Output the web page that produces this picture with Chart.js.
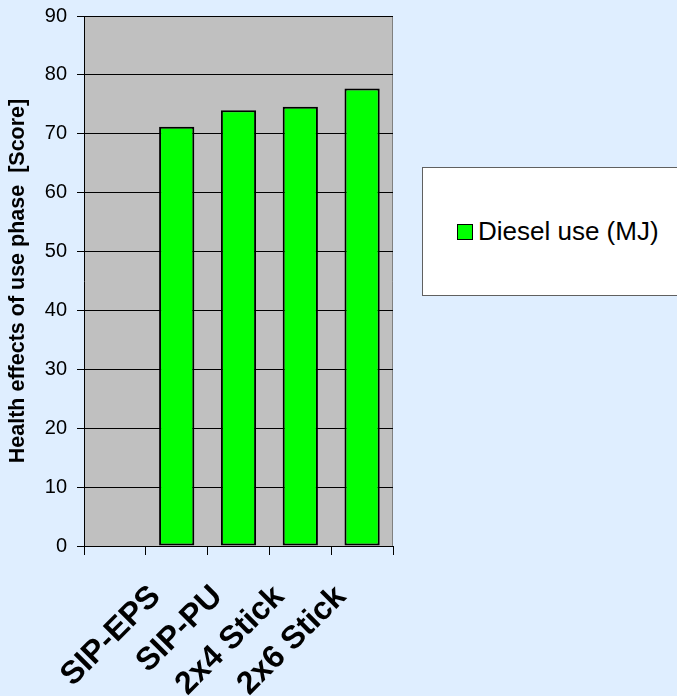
<!DOCTYPE html>
<html>
<head>
<meta charset="utf-8">
<script src="https://cdn.jsdelivr.net/npm/chart.js@4"></script>
<style>
  html, body { margin: 0; padding: 0; background: #dfeeff; overflow: hidden; }
  #wrap { position: relative; width: 677px; height: 696px; }
  #legend {
    position: absolute; left: 422px; top: 167px; width: 300px; height: 129px;
    background: #ffffff; border: 1px solid #606060; box-sizing: border-box;
    font-family: "Liberation Sans", Arial, sans-serif; font-size: 26px; color: #000;
    display: flex; align-items: center;
  }
  #legend .box {
    display: inline-block; width: 14px; height: 14px; margin-left: 34px; margin-right: 5px;
    border: 1.5px solid #000; background: #00ff00;
  }
</style>
</head>
<body>
<div id="wrap">
  <canvas id="chart" width="677" height="696"></canvas>
  <div id="legend"></div>
</div>
<script>
// categories (first slot is an empty category, as in the original)
const categories = ['', 'SIP-EPS', 'SIP-PU', '2x4 Stick', '2x6 Stick'];
const seriesLabel = 'Diesel use (MJ)';
const dieselUse = [null, 71.2, 74.0, 74.6, 77.7];
const yTicks = [0, 10, 20, 30, 40, 50, 60, 70, 80, 90];

const FONT = '"Liberation Sans", Arial, sans-serif';

// gray plot area + gray frame on top/right
const plotArea = {
  id: 'plotArea',
  beforeDraw(chart) {
    const { ctx, chartArea: a } = chart;
    ctx.save();
    ctx.fillStyle = '#c0c0c0';
    ctx.fillRect(a.left, a.top, a.right - a.left, a.bottom - a.top);
    ctx.strokeStyle = '#808080';
    ctx.lineWidth = 1;
    ctx.beginPath();
    ctx.moveTo(a.left, a.top + 0.5);
    ctx.lineTo(a.right - 0.5, a.top + 0.5);
    ctx.lineTo(a.right - 0.5, a.bottom);
    ctx.stroke();
    ctx.restore();
  }
};

const chart = new Chart(document.getElementById('chart'), {
  type: 'bar',
  data: {
    labels: categories,
    datasets: [{
      label: seriesLabel,
      data: dieselUse,
      backgroundColor: '#00ff00',
      borderColor: '#000000',
      borderWidth: 2,
      borderSkipped: false,
      categoryPercentage: 1.0,
      barPercentage: 0.57,
    }]
  },
  options: {
    responsive: false,
    animation: false,
    layout: { padding: { top: 16, right: 284, left: 0, bottom: 0 } },
    plugins: {
      legend: { display: false },
      tooltip: { enabled: false },
    },
    scales: {
      x: {
        grid: {
          display: true,
          drawOnChartArea: false,
          drawTicks: true,
          tickLength: 9,
          color: '#000000',
          offset: true,
        },
        border: { display: true, color: '#000000', width: 1 },
        ticks: {
          autoSkip: false,
          minRotation: 45,
          maxRotation: 45,
          color: '#000000',
          font: { family: FONT, size: 32, weight: 'bold' },
          padding: 23,
          labelOffset: -21,
        },
        afterFit(scale) { scale.height = 150; },
      },
      y: {
        min: 0,
        max: 90,
        afterBuildTicks(scale) { scale.ticks = yTicks.map(v => ({ value: v })); },
        grid: {
          color: '#000000',
          tickLength: 7,
          drawTicks: true,
        },
        border: { display: true, color: '#000000', width: 1 },
        ticks: {
          color: '#000000',
          font: { family: FONT, size: 20 },
          padding: 10,
        },
        title: {
          display: true,
          text: 'Health effects of use phase  [Score]',
          color: '#000000',
          font: { family: FONT, size: 21.5, weight: 'bold' },
          padding: { top: 5, bottom: 0 },
        },
        afterFit(scale) {
          scale.width = 84;
          scale.paddingTop = 0;
          scale.paddingBottom = 0;
        },
      },
    },
  },
  plugins: [plotArea],
});

// legend built from the dataset
const lg = document.getElementById('legend');
chart.data.datasets.forEach(ds => {
  const box = document.createElement('span');
  box.className = 'box';
  box.style.background = ds.backgroundColor;
  lg.appendChild(box);
  const t = document.createElement('span');
  t.textContent = ds.label;
  lg.appendChild(t);
});
</script>
</body>
</html>
